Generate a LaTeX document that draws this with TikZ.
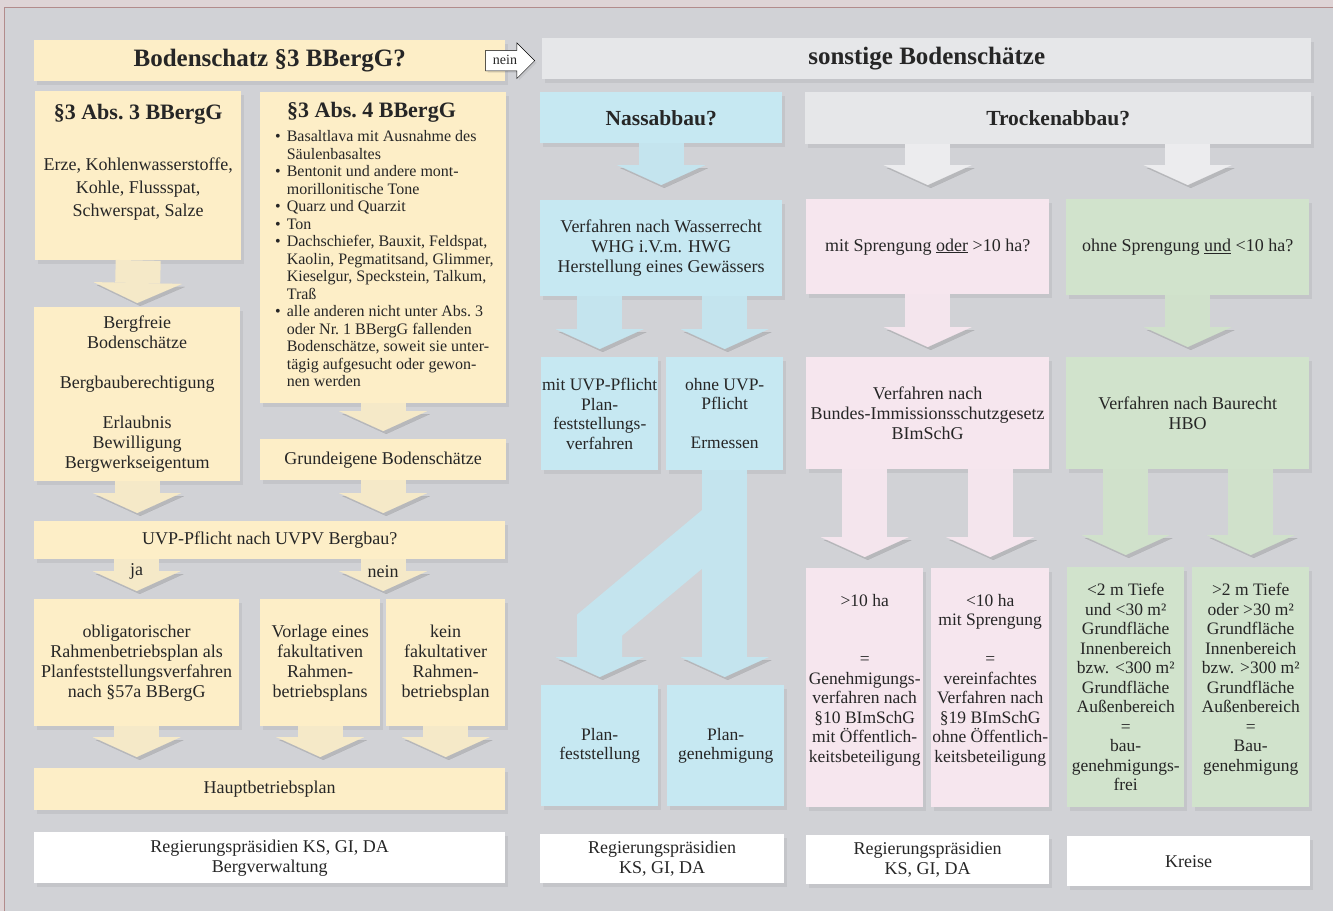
\documentclass[tikz,border=0pt]{standalone}
\usepackage{fontspec}
\setmainfont{Liberation Serif}
\usetikzlibrary{shapes.arrows, arrows.meta, shadows, calc, positioning}

\definecolor{gelb}{RGB}{253,238,199}
\definecolor{gelbp}{RGB}{245,233,200}
\definecolor{blau}{RGB}{198,232,242}
\definecolor{blaup}{RGB}{196,228,238}
\definecolor{rosa}{RGB}{246,230,238}
\definecolor{rosap}{RGB}{244,229,237}
\definecolor{gruen}{RGB}{209,227,204}
\definecolor{gruenp}{RGB}{208,225,203}
\definecolor{grau}{RGB}{230,231,233}
\definecolor{graup}{RGB}{236,236,238}
\definecolor{hgrund}{RGB}{209,210,214}
\definecolor{aussen}{RGB}{222,212,214}
\definecolor{rand}{RGB}{178,140,140}
\definecolor{schrift}{RGB}{38,38,38}

\hyphenpenalty=10000
\exhyphenpenalty=10000

\tikzstyle{kasten} = [rectangle, anchor=north west, inner sep=0pt, align=center, text=schrift, font=\fontsize{18}{20}\selectfont, drop shadow={shadow xshift=3pt, shadow yshift=-4pt, opacity=0.15}]
\tikzstyle{gelbkasten} = [kasten, fill=gelb]
\tikzstyle{blaukasten} = [kasten, fill=blau]
\tikzstyle{rosakasten} = [kasten, fill=rosa]
\tikzstyle{gruenkasten} = [kasten, fill=gruen]
\tikzstyle{graukasten} = [kasten, fill=grau]
\tikzstyle{weisskasten} = [kasten, fill=white]
\tikzstyle{schmal} = [font=\fontsize{17.5}{19.5}\selectfont]
\tikzstyle{titel} = [font=\fontsize{25}{28}\selectfont\bfseries]
\tikzstyle{frage} = [font=\fontsize{21.5}{24}\selectfont\bfseries]
\tikzstyle{marke} = [text=schrift, inner sep=0pt, font=\fontsize{18}{20}\selectfont]
\tikzstyle{pfeil} = [line width=45pt, -{Triangle[length=20pt, width=88pt, line width=0.01pt]}, shorten >=8pt, preaction={draw=black, opacity=0.12, transform canvas={xshift=3pt, yshift=-3pt}}]
\tikzstyle{gelbpfeil} = [pfeil, draw=gelbp]
\tikzstyle{blaupfeil} = [pfeil, draw=blaup]
\tikzstyle{rosapfeil} = [pfeil, draw=rosap]
\tikzstyle{gruenpfeil} = [pfeil, draw=gruenp]
\tikzstyle{graupfeil} = [pfeil, draw=graup]

\begin{document}
\begin{tikzpicture}[x=1pt, y=-1pt]
\useasboundingbox (0,0) rectangle (1333,911);
\fill [aussen] (0,0) rectangle (1333,911);
\fill [hgrund] (4,7) rectangle (1333,911);
\draw [rand, line width=1pt] (4,911) -- (4,7) -- (1333,7);

% Bergrecht
\node (boden) [gelbkasten, titel, minimum width=471pt, minimum height=41pt] at (34,40) {Bodenschatz §3 BBergG?};
\node (abs3) [gelbkasten] at (35,91) {\parbox[c][169pt][t]{206pt}{\centering\vspace*{13pt}{\fontsize{22}{26}\selectfont\bfseries §3 Abs.~3 BBergG\par}\vspace{28pt}\fontsize{18}{23}\selectfont Erze, Kohlenwasserstoffe,\\ Kohle, Flussspat,\\ Schwerspat, Salze}};
\node (abs4) [gelbkasten] at (260,92) {\parbox[c][311pt][t]{246pt}{\raggedright\vspace*{10pt}\hspace*{27pt}{\fontsize{22}{26}\selectfont\bfseries §3 Abs.~4 BBergG\par}\vspace{7pt}\fontsize{16}{17.5}\selectfont\hspace*{15pt}\begin{tabular}[t]{@{}c@{\hspace{6pt}}l@{}}
\textbullet & Basaltlava mit Ausnahme des\\
 & Säulenbasaltes\\
\textbullet & Bentonit und andere mont-\\
 & morillonitische Tone\\
\textbullet & Quarz und Quarzit\\
\textbullet & Ton\\
\textbullet & Dachschiefer, Bauxit, Feldspat,\\
 & Kaolin, Pegmatitsand, Glimmer,\\
 & Kieselgur, Speckstein, Talkum,\\
 & Traß\\
\textbullet & alle anderen nicht unter Abs.~3\\
 & oder Nr.~1 BBergG fallenden\\
 & Bodenschätze, soweit sie unter-\\
 & tägig aufgesucht oder gewon-\\
 & nen werden
\end{tabular}}};
\node (bergfrei) [gelbkasten, minimum width=206pt, minimum height=174pt] at (34,307) {Bergfreie\\ Bodenschätze\\ \\ Bergbauberechtigung\\ \\ Erlaubnis\\ Bewilligung\\ Bergwerkseigentum};
\node (grund) [gelbkasten, minimum width=246pt, minimum height=41pt] at (260,439) {Grundeigene Bodenschätze};
\node (uvp) [gelbkasten, minimum width=471pt, minimum height=38pt] at (34,521) {UVP-Pflicht nach UVPV Bergbau?};
\node (oblig) [gelbkasten, minimum width=205pt, minimum height=127pt] at (34,599) {obligatorischer\\ Rahmenbetriebsplan als\\ Planfeststellungsverfahren\\ nach §57a BBergG};
\node (vorlage) [gelbkasten, minimum width=120pt, minimum height=127pt] at (260,599) {Vorlage eines\\ fakultativen\\ Rahmen-\\ betriebsplans};
\node (kein) [gelbkasten, minimum width=119pt, minimum height=127pt] at (386,599) {kein\\ fakultativer\\ Rahmen-\\ betriebsplan};
\node (haupt) [gelbkasten, minimum width=471pt, minimum height=42pt] at (34,768) {Hauptbetriebsplan};
\node (regberg) [weisskasten, minimum width=471pt, minimum height=51pt] at (34,832) {Regierungspräsidien KS, GI, DA\\ Bergverwaltung};

% sonstige Bodenschaetze
\node (sonst) [graukasten, titel, minimum width=769pt, minimum height=41pt] at (542,38) {sonstige Bodenschätze};
\node (nass) [blaukasten, frage, minimum width=242pt, minimum height=51pt] at (540,92) {Nassabbau?};
\node (trocken) [graukasten, frage, minimum width=506pt, minimum height=52pt] at (805,92) {Trockenabbau?};
\node (wasser) [blaukasten, minimum width=242pt, minimum height=96pt] at (540,200) {Verfahren nach Wasserrecht\\ WHG i.V.m. HWG\\ Herstellung eines Gewässers};
\node (mitspreng) [rosakasten, minimum width=243pt, minimum height=95pt] at (806,199) {mit Sprengung \underline{oder} >10 ha?};
\node (ohnespreng) [gruenkasten, minimum width=243pt, minimum height=96pt] at (1066,199) {ohne Sprengung \underline{und} <10 ha?};
\node (mituvp) [blaukasten, schmal, minimum width=117pt, minimum height=113pt] at (541,357) {mit UVP-Pflicht\\ Plan-\\ feststellungs-\\ verfahren};
\node (ohneuvp) [blaukasten, schmal, minimum width=117pt, minimum height=113pt] at (666,357) {ohne UVP-\\ Pflicht\\ \\ Ermessen};
\node (bimsch) [rosakasten, minimum width=243pt, minimum height=112pt] at (806,357) {Verfahren nach\\ Bundes-Immissionsschutzgesetz\\ BImSchG};
\node (baurecht) [gruenkasten, minimum width=243pt, minimum height=112pt] at (1066,357) {Verfahren nach Baurecht\\ HBO};
\node (planfest) [blaukasten, schmal, minimum width=117pt, minimum height=121pt] at (541,685) {Plan-\\ feststellung};
\node (plangen) [blaukasten, schmal, minimum width=117pt, minimum height=121pt] at (667,685) {Plan-\\ genehmigung};
\node (gt10) [rosakasten, schmal, minimum width=117pt, minimum height=239pt] at (806,568) {>10 ha\\ \\ \\ =\\ Genehmigungs-\\ verfahren nach\\ §10 BImSchG\\ mit Öffentlich-\\ keitsbeteiligung\\ \mbox{}};
\node (lt10) [rosakasten, schmal, minimum width=118pt, minimum height=239pt] at (931,568) {<10 ha\\ mit Sprengung\\ \\ =\\ vereinfachtes\\ Verfahren nach\\ §19 BImSchG\\ ohne Öffentlich-\\ keitsbeteiligung\\ \mbox{}};
\node (gklein) [gruenkasten, schmal, minimum width=117pt, minimum height=240pt] at (1067,567) {<2 m Tiefe\\ und <30 m²\\ Grundfläche\\ Innenbereich\\ bzw. <300 m²\\ Grundfläche\\ Außenbereich\\ =\\ bau-\\ genehmigungs-\\ frei};
\node (ggross) [gruenkasten, schmal, minimum width=117pt, minimum height=240pt] at (1192,567) {>2 m Tiefe\\ oder >30 m²\\ Grundfläche\\ Innenbereich\\ bzw. >300 m²\\ Grundfläche\\ Außenbereich\\ =\\ Bau-\\ genehmigung\\ \mbox{}};
\node (regblau) [weisskasten, minimum width=244pt, minimum height=49pt] at (540,834) {Regierungspräsidien\\ KS, GI, DA};
\node (regrosa) [weisskasten, minimum width=243pt, minimum height=49pt] at (806,835) {Regierungspräsidien\\ KS, GI, DA};
\node (kreise) [weisskasten, minimum width=243pt, minimum height=50pt] at (1067,836) {Kreise};

\node (neinpfeil) [single arrow, draw=black, fill=white, line width=0.5pt, anchor=west, minimum height=49pt, single arrow head extend=7.5pt, inner xsep=3pt, inner ysep=4pt, text height=10pt, text depth=2pt, font=\fontsize{14}{16}\selectfont, text=schrift, drop shadow={shadow xshift=2pt, shadow yshift=-2pt, opacity=0.15}] at ($(boden.east)+(-20,0)$) {nein};

% Pfeile Bergrecht
\draw [gelbpfeil, shorten >=4pt] (abs3.south) -- (bergfrei.north);
\draw [gelbpfeil] (abs4.south) -- (grund.north);
\draw [gelbpfeil] (bergfrei.south) -- (bergfrei.south |- uvp.north);
\draw [gelbpfeil] (grund.south) -- (grund.south |- uvp.north);
\draw [gelbpfeil] (uvp.south -| oblig.north) -- node[marke, pos=0.3]{ja} (oblig.north);
\draw [gelbpfeil] (uvp.south -| grund.south) -- node[marke, pos=0.3]{nein} (grund.south |- kein.north);
\draw [gelbpfeil, shorten >=11pt] (oblig.south) -- (oblig.south |- haupt.north);
\draw [gelbpfeil, shorten >=11pt] (vorlage.south) -- (vorlage.south |- haupt.north);
\draw [gelbpfeil, shorten >=11pt] (kein.south) -- (kein.south |- haupt.north);

% Pfeile Nassabbau
\draw [blaupfeil, shorten >=15pt] (nass.south) -- (wasser.north);
\draw [blaupfeil] (wasser.south -| mituvp.north) -- (mituvp.north);
\draw [blaupfeil] (wasser.south -| ohneuvp.north) -- (ohneuvp.north);
\coordinate (abzweig) at ($(ohneuvp.south)+(0,50)$);
\coordinate (knick) at ($(planfest.north)+(0,-60)$);
\draw [blaupfeil, line join=miter] (abzweig) -- (knick) -- (planfest.north);
\draw [blaupfeil] (ohneuvp.south) -- (ohneuvp.south |- plangen.north);

% Pfeile Trockenabbau
\draw [graupfeil, shorten >=14pt] (trocken.south -| mitspreng.north) -- (mitspreng.north);
\draw [graupfeil, shorten >=14pt] (trocken.south -| ohnespreng.north) -- (ohnespreng.north);
\draw [rosapfeil, shorten >=10pt] (mitspreng.south) -- (bimsch.north);
\draw [gruenpfeil, shorten >=10pt] (ohnespreng.south) -- (baurecht.north);
\draw [rosapfeil, shorten >=11pt] (bimsch.south -| gt10.north) -- (gt10.north);
\draw [rosapfeil, shorten >=11pt] (bimsch.south -| lt10.north) -- (lt10.north);
\draw [gruenpfeil, shorten >=12pt] (baurecht.south -| gklein.north) -- (gklein.north);
\draw [gruenpfeil, shorten >=12pt] (baurecht.south -| ggross.north) -- (ggross.north);
\end{tikzpicture}
\end{document}
